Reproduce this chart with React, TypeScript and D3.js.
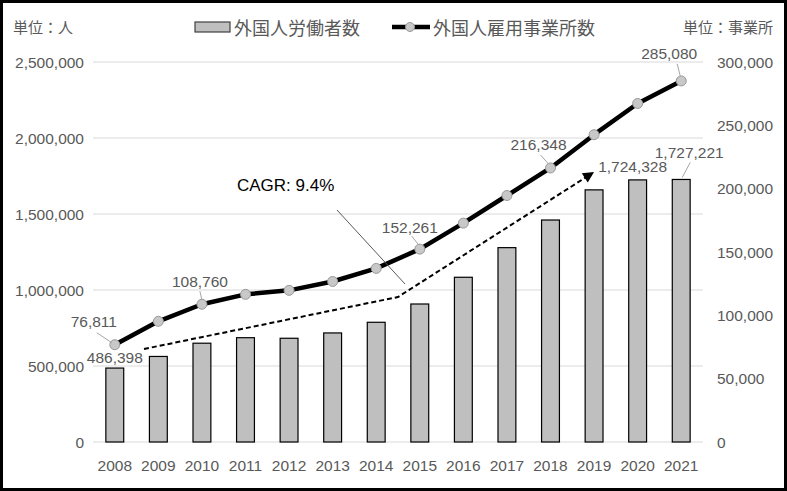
import React from "react";
import * as d3 from "d3";

const years = ["2008","2009","2010","2011","2012","2013","2014","2015","2016","2017","2018","2019","2020","2021"];
const workers = [486398,562818,649982,686246,682450,717504,787627,907896,1083769,1278670,1460463,1658804,1724328,1727221];
const establishments = [76811,95294,108760,116561,119731,126729,137053,152261,172798,194595,216348,242608,267243,285080];
const leftTicks = [0,500000,1000000,1500000,2000000,2500000];
const rightTicks = [0,50000,100000,150000,200000,250000,300000];
const barLegend = "外国人労働者数";
const lineLegend = "外国人雇用事業所数";
const leftUnit = "単位：人";
const rightUnit = "単位：事業所";
const cagrText = "CAGR: 9.4%";
// CAGR arrow path in data terms: [category index (fractional), left-axis value]
const cagrPath: [number, number][] = [[0.67, 612000],[6.5, 954000],[11, 1776000]];

// label layout (offsets from the mark, pixels)
const lineLabelLayout = [
  { i: 0, dx: -21, dy: -23, leader: [[-18, -12], [-3, -2]] },
  { i: 2, dx: -2, dy: -23, leader: [[-2, -13], [0, -4]] },
  { i: 7, dx: -10, dy: -22, leader: [[-8, -13], [-1, -4]] },
  { i: 10, dx: -12, dy: -23, leader: [[-10, -13], [-2, -4]] },
  { i: 13, dx: -12, dy: -27, leader: [[-4, -17], [-1, -5]] },
];
const barLabelLayout = [
  { i: 0, dx: 0, dy: -11, leader: null as null | number[][] },
  { i: 12, dx: -5, dy: -13, leader: null },
  { i: 13, dx: 8, dy: -27, leader: [[9, -17], [1, -2]] },
];

const fmt = d3.format(",");
const NUM_FONT = "'Liberation Sans', Arial, sans-serif";
const CJK_FONT = "'Noto Sans CJK JP', sans-serif";
const TXT = "#595959";
const NUM_SIZE = 15.5;

export default function App() {
  const W = 787, H = 491;
  const plotL = 93, plotR = 703, plotT = 62, plotB = 442;

  const x = d3.scaleBand<string>().domain(years).range([plotL, plotR]).paddingInner(0.59).paddingOuter(0.295);
  const step = x.step();
  const cx = (i: number) => (x(years[0]) as number) + x.bandwidth() / 2 + i * step;
  const yL = d3.scaleLinear().domain([0, 2500000]).range([plotB, plotT]);
  const yR = d3.scaleLinear().domain([0, 300000]).range([plotB, plotT]);

  const linePath = d3.line<number>().x((_, i) => cx(i)).y((d) => yR(d))(establishments) || "";
  const cagrPts = cagrPath.map(([i, v]) => [cx(i), yL(v)] as [number, number]);
  const tip = cagrPts[cagrPts.length - 1];
  const prev = cagrPts[cagrPts.length - 2];
  const angR = Math.atan2(tip[1] - prev[1], tip[0] - prev[0]);
  const ang = (angR * 180) / Math.PI;
  const cagrLine = d3.line()(cagrPts.slice(0, -1).concat([[tip[0] - 8 * Math.cos(angR), tip[1] - 8 * Math.sin(angR)] as [number, number]])) || "";

  return (
    <div style={{ position: "absolute", left: 0, top: 0 }}>
      <svg width={W} height={H} style={{ display: "block", background: "#fff" }}>
        <rect x={1.5} y={1.5} width={W - 3} height={H - 3} fill="#fff" stroke="#000" strokeWidth={3} />

        {/* gridlines */}
        {leftTicks.map((t) => (
          <line key={"g" + t} x1={plotL} x2={plotR} y1={yL(t)} y2={yL(t)} stroke="#d9d9d9" strokeWidth={1.2} />
        ))}

        {/* left axis labels */}
        {leftTicks.map((t) => (
          <text key={"l" + t} x={84} y={yL(t)} textAnchor="end" dominantBaseline="central" fontFamily={NUM_FONT} fontSize={NUM_SIZE} fill={TXT}>{fmt(t)}</text>
        ))}
        {/* right axis labels */}
        {rightTicks.map((t) => (
          <text key={"r" + t} x={717} y={yR(t)} textAnchor="start" dominantBaseline="central" fontFamily={NUM_FONT} fontSize={NUM_SIZE} fill={TXT}>{fmt(t)}</text>
        ))}
        {/* x labels */}
        {years.map((yv, i) => (
          <text key={"x" + yv} x={cx(i)} y={465} textAnchor="middle" dominantBaseline="central" fontFamily={NUM_FONT} fontSize={NUM_SIZE} fill={TXT}>{yv}</text>
        ))}

        {/* bars */}
        {workers.map((v, i) => (
          <rect key={"b" + i} x={x(years[i])} y={yL(v)} width={x.bandwidth()} height={plotB - yL(v)} fill="#bfbfbf" stroke="#000" strokeWidth={1.2} />
        ))}

        {/* CAGR dashed arrow */}
        <path d={cagrLine} fill="none" stroke="#000" strokeWidth={2} strokeDasharray="5,3" />
        <polygon points="0,0 -11,-5.5 -11,5.5" fill="#000" transform={`translate(${tip[0]},${tip[1]}) rotate(${ang})`} />

        {/* line */}
        <path d={linePath} fill="none" stroke="#000" strokeWidth={4.5} strokeLinejoin="round" />
        {establishments.map((v, i) => (
          <circle key={"m" + i} cx={cx(i)} cy={yR(v)} r={5} fill="#c8c8c8" stroke="#999" strokeWidth={1} />
        ))}

        {/* line labels */}
        {lineLabelLayout.map((l) => {
          const px = cx(l.i), py = yR(establishments[l.i]);
          return (
            <g key={"ll" + l.i}>
              <line x1={px + l.leader[0][0]} y1={py + l.leader[0][1]} x2={px + l.leader[1][0]} y2={py + l.leader[1][1]} stroke="#a6a6a6" strokeWidth={1} />
              <text x={px + l.dx} y={py + l.dy} textAnchor="middle" dominantBaseline="central" fontFamily={NUM_FONT} fontSize={NUM_SIZE} fill={TXT}>{fmt(establishments[l.i])}</text>
            </g>
          );
        })}
        {/* bar labels */}
        {barLabelLayout.map((l) => {
          const px = cx(l.i), py = yL(workers[l.i]);
          return (
            <g key={"bl" + l.i}>
              {l.leader && (
                <line x1={px + l.leader[0][0]} y1={py + l.leader[0][1]} x2={px + l.leader[1][0]} y2={py + l.leader[1][1]} stroke="#a6a6a6" strokeWidth={1} />
              )}
              <text x={px + l.dx} y={py + l.dy} textAnchor="middle" dominantBaseline="central" fontFamily={NUM_FONT} fontSize={NUM_SIZE} fill={TXT}>{fmt(workers[l.i])}</text>
            </g>
          );
        })}

        {/* CAGR label */}
        <line x1={337} y1={210} x2={405} y2={284} stroke="#595959" strokeWidth={1} />
        <text x={237} y={185} dominantBaseline="central" fontFamily={NUM_FONT} fontSize={17} fill="#000">{cagrText}</text>

        {/* units */}
        <text x={13} y={26} dominantBaseline="central" fontFamily={CJK_FONT} fontSize={15} fill={TXT}>{leftUnit}</text>
        <text x={773} y={26} textAnchor="end" dominantBaseline="central" fontFamily={CJK_FONT} fontSize={15} fill={TXT}>{rightUnit}</text>

        {/* legend */}
        <rect x={195} y={22} width={35} height={10} fill="#bfbfbf" stroke="#404040" strokeWidth={1.2} />
        <text x={234} y={27} dominantBaseline="central" fontFamily={CJK_FONT} fontSize={18} fill={TXT}>{barLegend}</text>
        <line x1={392} x2={430} y1={27} y2={27} stroke="#000" strokeWidth={4.5} />
        <circle cx={410} cy={27} r={4.5} fill="#c8c8c8" stroke="#999" strokeWidth={1} />
        <text x={433} y={27} dominantBaseline="central" fontFamily={CJK_FONT} fontSize={18} fill={TXT}>{lineLegend}</text>
      </svg>
    </div>
  );
}
